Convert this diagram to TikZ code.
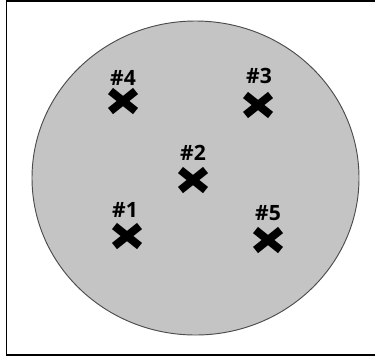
\documentclass[tikz,border=0pt]{standalone}
\usepackage{fontspec}
\setsansfont{Open Sans}
\tikzset{
  marklabel/.style={font=\sffamily\bfseries\fontsize{18}{18}\selectfont, inner sep=0pt},
  crossmark/.style={line width=6.8pt, line cap=butt},
  sample/.style={fill=black!23, draw=black!70, line width=0.8pt}
}
\begin{document}
\begin{tikzpicture}[x=0.03cm, y=-0.03cm]
    \useasboundingbox (0,0) rectangle (375,360);
    \clip (0,0) rectangle (375,360);

    % Cadre et disque
    \draw[line width=1.7pt] (6.5,1) rectangle (385,355);
    \draw[sample] (195.5,178) ellipse [x radius=163.5, y radius=157];

    % Positions des points
    \coordinate (p1) at (127,236);
    \coordinate (p2) at (193,180);
    \coordinate (p3) at (258,105);
    \coordinate (p4) at (123,101);
    \coordinate (p5) at (268,240);

    % Croix
    \foreach \p in {p1,p2,p3,p4,p5} {
      \draw[crossmark] ([shift={(-12.5,-10)}]\p) -- ([shift={(12.5,10)}]\p);
      \draw[crossmark] ([shift={(-12.5,10)}]\p) -- ([shift={(12.5,-10)}]\p);
    }

    % Numéros
    \node[marklabel] (n1) at (125,210) {\#1};
    \node[marklabel] (n2) at (193,153) {\#2};
    \node[marklabel] (n3) at (259,76) {\#3};
    \node[marklabel] (n4) at (123,77.5) {\#4};
    \node[marklabel] (n5) at (268,213.5) {\#5};
\end{tikzpicture}
\end{document}
